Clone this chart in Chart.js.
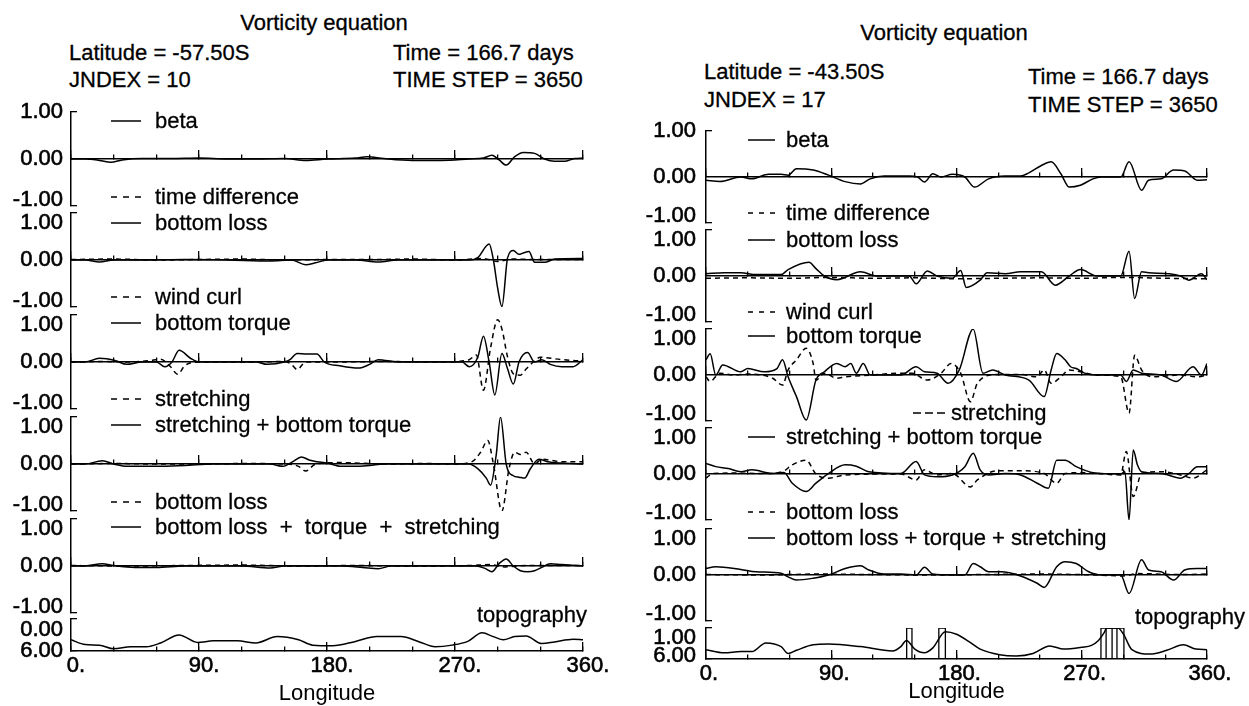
<!DOCTYPE html>
<html><head><meta charset="utf-8">
<script src="https://cdn.jsdelivr.net/npm/chart.js@4.4.1/dist/chart.umd.min.js"></script>
<style>
html,body{margin:0;padding:0;background:#fff;}
#page{position:relative;width:1249px;height:706px;overflow:hidden;background:#fff;font-family:"Liberation Sans",Arial,Helvetica,sans-serif;color:#000;}
#page canvas{position:absolute;}
.t{position:absolute;font-size:22px;line-height:22px;white-space:pre;transform:translateY(-50%);z-index:2;-webkit-text-stroke:0.3px #000;}
.c{transform:translate(-50%,-50%);}
.r{transform:translate(-100%,-50%);}
.ls{position:absolute;z-index:2;overflow:visible;}
</style></head>
<body><div id="page">
<!-- left header -->
<div class="t c" style="left:324px;top:23px">Vorticity equation</div>
<div class="t" style="left:69px;top:53px">Latitude = -57.50S</div>
<div class="t" style="left:69px;top:80px">JNDEX = 10</div>
<div class="t" style="left:393px;top:53px">Time = 166.7 days</div>
<div class="t" style="left:393px;top:80px">TIME STEP = 3650</div>
<!-- right header -->
<div class="t c" style="left:944px;top:33px">Vorticity equation</div>
<div class="t" style="left:704px;top:72px">Latitude = -43.50S</div>
<div class="t" style="left:704px;top:100px">JNDEX = 17</div>
<div class="t" style="left:1028px;top:77px">Time = 166.7 days</div>
<div class="t" style="left:1028px;top:105px">TIME STEP = 3650</div>
<!-- left legends -->
<svg class="ls" style="left:111px;top:120px" width="30" height="2"><line x1="0" y1="1" x2="30" y2="1" stroke="#000" stroke-width="1.5"/></svg>
<div class="t" style="left:155px;top:121px">beta</div>
<svg class="ls" style="left:111px;top:196px" width="30" height="2"><line x1="0" y1="1" x2="30" y2="1" stroke="#000" stroke-width="1.5" stroke-dasharray="6 6"/></svg>
<div class="t" style="left:155px;top:197px">time difference</div>
<svg class="ls" style="left:111px;top:222px" width="30" height="2"><line x1="0" y1="1" x2="30" y2="1" stroke="#000" stroke-width="1.5"/></svg>
<div class="t" style="left:155px;top:223px">bottom loss</div>
<svg class="ls" style="left:111px;top:296px" width="30" height="2"><line x1="0" y1="1" x2="30" y2="1" stroke="#000" stroke-width="1.5" stroke-dasharray="6 6"/></svg>
<div class="t" style="left:155px;top:297px">wind curl</div>
<svg class="ls" style="left:111px;top:322px" width="30" height="2"><line x1="0" y1="1" x2="30" y2="1" stroke="#000" stroke-width="1.5"/></svg>
<div class="t" style="left:155px;top:323px">bottom torque</div>
<svg class="ls" style="left:111px;top:398px" width="30" height="2"><line x1="0" y1="1" x2="30" y2="1" stroke="#000" stroke-width="1.5" stroke-dasharray="6 6"/></svg>
<div class="t" style="left:155px;top:399px">stretching</div>
<svg class="ls" style="left:111px;top:424px" width="30" height="2"><line x1="0" y1="1" x2="30" y2="1" stroke="#000" stroke-width="1.5"/></svg>
<div class="t" style="left:155px;top:425px">stretching + bottom torque</div>
<svg class="ls" style="left:111px;top:501px" width="30" height="2"><line x1="0" y1="1" x2="30" y2="1" stroke="#000" stroke-width="1.5" stroke-dasharray="6 6"/></svg>
<div class="t" style="left:155px;top:502px">bottom loss</div>
<svg class="ls" style="left:111px;top:526px" width="30" height="2"><line x1="0" y1="1" x2="30" y2="1" stroke="#000" stroke-width="1.5"/></svg>
<div class="t" style="left:155px;top:527px">bottom loss  +  torque  +  stretching</div>
<div class="t r" style="left:587px;top:615px">topography</div>
<!-- right legends -->
<svg class="ls" style="left:748px;top:139px" width="27" height="2"><line x1="0" y1="1" x2="27" y2="1" stroke="#000" stroke-width="1.5"/></svg>
<div class="t" style="left:786px;top:140px">beta</div>
<svg class="ls" style="left:748px;top:212px" width="27" height="2"><line x1="0" y1="1" x2="27" y2="1" stroke="#000" stroke-width="1.5" stroke-dasharray="5 6"/></svg>
<div class="t" style="left:786px;top:213px">time difference</div>
<svg class="ls" style="left:748px;top:239px" width="27" height="2"><line x1="0" y1="1" x2="27" y2="1" stroke="#000" stroke-width="1.5"/></svg>
<div class="t" style="left:786px;top:240px">bottom loss</div>
<svg class="ls" style="left:748px;top:311px" width="27" height="2"><line x1="0" y1="1" x2="27" y2="1" stroke="#000" stroke-width="1.5" stroke-dasharray="5 6"/></svg>
<div class="t" style="left:786px;top:312px">wind curl</div>
<svg class="ls" style="left:748px;top:335px" width="27" height="2"><line x1="0" y1="1" x2="27" y2="1" stroke="#000" stroke-width="1.5"/></svg>
<div class="t" style="left:786px;top:336px">bottom torque</div>
<svg class="ls" style="left:913px;top:412px" width="32" height="2"><line x1="0" y1="1" x2="32" y2="1" stroke="#000" stroke-width="1.5" stroke-dasharray="8 4"/></svg>
<div class="t" style="left:951px;top:413px">stretching</div>
<svg class="ls" style="left:748px;top:436px" width="27" height="2"><line x1="0" y1="1" x2="27" y2="1" stroke="#000" stroke-width="1.5"/></svg>
<div class="t" style="left:786px;top:437px">stretching + bottom torque</div>
<svg class="ls" style="left:748px;top:511px" width="27" height="2"><line x1="0" y1="1" x2="27" y2="1" stroke="#000" stroke-width="1.5" stroke-dasharray="5 6"/></svg>
<div class="t" style="left:786px;top:512px">bottom loss</div>
<svg class="ls" style="left:748px;top:537px" width="27" height="2"><line x1="0" y1="1" x2="27" y2="1" stroke="#000" stroke-width="1.5"/></svg>
<div class="t" style="left:786px;top:538px">bottom loss + torque + stretching</div>
<div class="t r" style="left:1245px;top:617px">topography</div>
</div>
<script>
// ---------------- DATA ----------------
const xTickStepMinor = 30;
const xTickStepMajor = 90;
const vortTicks = [-1, 0, 1];
const topoTicksLeft = [0, 6];
const topoTicksRight = [1, 6];

// Left panel: Latitude -57.50S
const L_beta_lon = [0,10,20,28,36,50,70,90,110,130,150,165,180,200,208,220,240,260,280,290,296,301,306,312,318,326,333,340,347,354,360];
const L_beta     = [0,0,-0.03,-0.07,-0.02,0.01,0.01,0.02,0,0,0.01,-0.03,0,0.02,0.05,0.01,-0.03,-0.03,0,0.02,0.08,-0.02,-0.13,0.05,0.14,0.12,0,-0.05,-0.05,0.01,0.02];
const L_tdiff_lon = [0,30,60,90,120,150,180,210,240,270,290,300,310,330,360];
const L_tdiff     = [0.01,0.02,0,0.01,0.02,0,0.01,0.01,0.02,0,0.03,-0.03,0.02,0.01,0.01];
const L_bloss_lon = [0,10,20,30,50,80,110,140,155,165,172,180,200,216,230,260,280,286,294,297,300,303,307,311,315,318,322,326,333,340,360];
const L_bloss     = [0,0,-0.04,0,0,0.01,0,-0.02,0,-0.1,-0.06,0,0,-0.04,0,0,0,0.05,0.34,0,-0.6,-0.99,0.05,0.2,0.12,0.15,0.18,-0.05,-0.05,0.02,0.03];
const L_wind_lon = [0,20,40,55,63,70,75,80,90,120,150,155,159,165,180,220,260,280,285,290,295,300,303,307,311,316,320,325,330,345,360];
const L_wind     = [0,0.01,0,0.03,0.06,-0.1,-0.26,-0.08,0,0,0.01,-0.05,-0.16,0,0,0.01,0,0.05,0.15,-0.6,0.3,0.9,0.7,0.1,-0.25,-0.28,-0.15,0,0.1,0.05,0.02];
const L_torque_lon = [0,10,20,25,32,39,50,60,66,71,76,84,90,110,130,138,150,154,159,166,173,178,189,202,210,216,230,260,275,280,286,290,294,298,303,307,311,315,321,326,331,337,345,353,360];
const L_torque     = [0,0,0.08,0.07,0.02,-0.05,0,0,-0.1,0,0.25,0.08,0,0,0,-0.05,0,0.05,0.18,0.17,0.17,0,-0.08,-0.13,-0.05,0.05,0,0,0,-0.1,0.1,0.55,0,-0.7,0.18,-0.15,-0.47,0,0.2,0,0.05,-0.05,-0.1,-0.1,0.05];
const L_stretch_lon = [0,30,60,90,120,150,160,165,172,190,220,250,270,282,288,293,297,303,308,312,316,320,326,331,345,360];
const L_stretch     = [0,0.01,0,0,0.01,0,-0.05,-0.15,0,0.03,0,0.01,0,0.05,0.25,0.5,0,-1.0,-0.1,0.25,0.2,0.25,0,0.1,0.05,0.05];
const L_sbt_lon = [0,10,22,30,40,60,80,100,120,140,149,156,162,168,173,180,190,200,210,220,240,260,280,286,292,295,299,302,306,311,315,319,323,329,335,345,360];
const L_sbt     = [0,0,0.07,0,-0.05,-0.05,-0.03,0,0,0,-0.05,0.05,0.15,0.08,0.05,0.02,-0.05,-0.05,-0.03,0,0,0,0,-0.1,-0.3,-0.45,0.2,1.0,0,-0.25,-0.28,-0.3,-0.1,0.1,0.05,0.02,0];
const L_bloss2_lon = [0,40,80,120,160,200,240,280,295,305,320,360];
const L_bloss2     = [0.01,0,0.01,0.02,0,0.01,0,0.01,0.03,-0.02,0.01,0.01];
const L_sum_lon = [0,10,22,30,45,60,80,100,120,140,150,170,190,205,216,225,250,270,285,291,296,301,306,311,316,321,326,331,337,345,360];
const L_sum     = [0,0,0.05,0.01,-0.03,-0.03,0,0,0,-0.04,0,0,0,-0.03,-0.06,0,0,0,0,-0.05,-0.12,0.05,0.15,0,-0.1,-0.12,-0.1,-0.03,0.05,0.03,0];
const L_topo_lon = [0,10,20,30,42,53,63,76,89,100,117,130,145,160,170,184,200,215,232,245,256,268,279,289,297,304,312,320,331,340,353,360];
const L_topo     = [3.9,4.8,4.9,5.6,5.2,5.2,4.5,3.0,4.4,4.1,4.1,4.5,3.3,3.9,4.9,5.0,4.2,3.3,3.3,4.3,5.2,4.9,4.2,2.6,3.3,3.9,3.3,3.2,4.6,4.3,3.8,3.9];

// Right panel: Latitude -43.50S
const R_beta_lon = [0,10,25,33,45,54,59,65,77,88,100,111,118,128,146,152,157,163,169,177,186,193,203,215,226,232,241,248,255,261,269,278,284,298,304,313,318,327,336,344,353,360];
const R_beta     = [-0.07,-0.1,0,-0.04,0.06,0.06,0.04,0.18,0.15,0.04,-0.1,-0.15,-0.04,0.02,0.02,0,-0.11,0.07,0,0.06,0,-0.22,-0.04,0.02,0.02,0.09,0.25,0.33,0.07,-0.22,-0.18,-0.04,0,0,0.33,-0.29,-0.07,-0.04,0.15,0.13,-0.07,-0.06];
const R_tdiff_lon = [0,30,60,90,120,150,180,210,240,270,300,330,360];
const R_tdiff     = [-0.05,-0.04,-0.05,-0.03,-0.05,-0.04,-0.06,-0.05,-0.04,-0.05,-0.03,-0.05,-0.06];
const R_bloss_lon = [0,13,25,36,54,59,74,79,85,94,111,123,140,146,151,159,166,177,183,187,197,202,215,226,241,251,261,269,281,298,304,308,313,318,333,341,347,356,360];
const R_bloss     = [0.05,0.07,0.07,0.03,0.03,0.14,0.3,0.16,0,-0.08,0.09,0,0,0,-0.17,0.11,0,-0.05,0.12,-0.25,-0.09,0.07,0.05,0.09,0.09,-0.2,0,0.14,0,0,0.54,-0.49,0.09,0.07,0.05,0,-0.09,0.05,-0.08];
const R_wind_lon = [0,3,10,20,30,40,48,55,59,65,72,77,79,85,94,100,120,140,148,159,169,176,183,190,195,209,226,238,243,248,255,261,269,280,298,304,308,313,321,341,353,360];
const R_wind     = [-0.04,-0.14,0.04,0,0.02,0,-0.07,-0.22,0.11,0.33,0.58,0.25,-0.11,0.04,-0.07,-0.04,0,0.04,0.04,-0.11,0.04,0.25,0.04,-0.58,-0.18,0.01,0.01,-0.04,0.11,-0.18,-0.04,0.11,0.07,0,-0.04,-0.83,0.43,0.11,-0.04,0,-0.04,0];
const R_torque_lon = [0,3,7,12,25,30,42,51,55,59,65,72,79,85,94,100,104,108,113,118,140,151,157,166,174,182,192,199,206,215,232,243,248,252,258,262,266,272,280,298,302,307,313,327,338,350,356,360];
const R_torque     = [0.33,0.46,0,0.22,0.07,0.14,0.07,0.14,0.33,-0.04,-0.47,-0.98,-0.11,0.07,0.25,0.18,0.25,0.04,0.25,0,0,0.18,0.07,0.04,-0.18,0.11,1.0,0.04,0.11,0,-0.11,-0.47,0.11,0.47,0.33,0.18,0.14,0.04,0,0,-0.14,0.11,0.04,0,-0.14,0.18,0,0.25];
const R_stretch_lon = [0,5,20,40,55,62,72,79,88,100,140,151,157,166,177,190,195,209,226,243,252,258,269,298,302,307,313,327,341,350,360];
const R_stretch     = [-0.09,0.01,0.02,0.01,0.05,0.2,0.3,0,-0.09,-0.02,0,-0.13,0.09,-0.02,0.01,-0.28,-0.13,0.07,0.07,0.01,-0.2,0.01,0.03,-0.02,0.49,-0.49,0.01,0.05,-0.02,-0.09,0.09];
const R_sbt_lon = [0,7,16,25,33,48,56,62,72,79,88,100,108,117,140,151,157,166,177,186,192,197,203,215,226,238,246,252,258,266,278,298,301,304,307,310,313,327,341,347,353,360];
const R_sbt     = [0.23,0.16,0.12,0.05,0.09,0.01,0.03,-0.2,-0.38,-0.2,0.01,0.2,0.17,0.05,0.01,0.27,-0.02,-0.06,-0.02,0.16,0.45,0.09,-0.02,0.01,-0.02,-0.2,-0.31,0.3,0.3,0.16,0.03,0,0.05,-1.0,0.52,0.2,0.05,0.01,-0.09,0.01,0.16,0.16];
const R_bloss2_lon = [0,40,80,120,160,200,240,280,300,310,340,360];
const R_bloss2     = [0.01,0,0.02,0.01,0,0.01,0.02,0,-0.02,0.03,0.01,0.02];
const R_sum_lon = [0,7,25,36,54,59,65,77,88,100,111,117,128,140,151,157,163,177,186,192,197,203,212,226,238,243,252,258,266,275,284,298,304,313,318,327,336,344,353,360];
const R_sum     = [0.14,0.18,0.12,0.07,0.04,-0.04,-0.11,-0.07,0,0.14,0.2,0.11,0.02,0.02,0,0.17,0.02,0,0,0.25,0.18,0.07,0.07,-0.02,-0.18,-0.27,0.18,0.29,0.25,0.07,0,0,-0.4,0.33,0.11,0.07,-0.11,0.11,0.14,0.14];
const R_topo_lon = [0,13,25,33,43,54,59,65,77,88,111,134,140,144,150,157,163,172,180,189,197,211,223,235,247,257,270,277,282,286,288,296,300,306,319,331,343,352,360];
const R_topo     = [4.5,5.0,4.8,4.8,3.4,4.0,5.1,4.6,3.7,3.6,4.0,4.7,4.0,3.0,4.4,5.0,4.2,1.6,2.0,3.2,4.4,5.3,5.5,5.1,3.9,4.4,4.1,3.8,3.0,1.8,1.0,1.0,2.0,4.5,5.2,4.6,3.7,4.4,4.5];
// land cells (longitude edges) shown as outlined boxes over the topography
const R_land_start = [144.2,167.3,283.8,287.5,291.8,295.3];
const R_land_end   = [148.0,172.0,287.5,291.8,295.3,300.3];

// ---------------- RENDERING ----------------
const FONT = '"Liberation Sans", Arial, Helvetica, sans-serif';
Chart.defaults.font.family = FONT;
Chart.defaults.color = '#000';
const page = document.getElementById('page');
const LINE_W = 1.5;

function series(lon, val, dashed) {
  return {
    data: lon.map((x, i) => ({x: x, y: val[i]})),
    borderColor: '#000', borderWidth: LINE_W, borderDash: dashed ? [5, 4] : [],
    pointRadius: 0, pointHoverRadius: 0, cubicInterpolationMode: 'monotone', fill: false,
    xAxisID: 'x', yAxisID: 'y'
  };
}
function landSeries(starts, ends, top, bottom) {
  const d = [];
  starts.forEach((a, i) => {
    const b = ends[i];
    d.push({x: a, y: bottom}, {x: a, y: top}, {x: b, y: top}, {x: b, y: bottom}, {x: b, y: null});
  });
  return {data: d, borderColor: '#000', borderWidth: 1.3, pointRadius: 0, tension: 0, fill: false, spanGaps: false, xAxisID: 'x', yAxisID: 'y'};
}

function makePlot(c) {
  const LW = c.axisX - c.canvasLeft;
  const P = 14;
  const canvasTop = c.top - P;
  const bottomExtra = c.bottomAxis ? (706 - c.bottom) : P;
  const H = (c.bottom - canvasTop) + bottomExtra;
  const W = LW + c.plotW + c.rightPad;
  const cv = document.createElement('canvas');
  cv.width = W; cv.height = H;
  cv.style.left = c.canvasLeft + 'px'; cv.style.top = canvasTop + 'px';
  cv.style.width = W + 'px'; cv.style.height = H + 'px';
  page.appendChild(cv);

  const fmt = (v) => Number(v).toFixed(2);
  const labelOf = (v) => {
    const s = fmt(v);
    if (v === c.topVal && c.topLH) return ['', s];
    if (v === c.botVal && c.botLH) return [s, ''];
    return s;
  };
  const lhOf = (v) => {
    if (v === c.topVal && c.topLH) return c.topLH + 'px';
    if (v === c.botVal && c.botLH) return c.botLH + 'px';
    return '22px';
  };
  const lineAxis = (step, len, border) => ({
    type: 'linear', min: 0, max: 360, position: {y: c.baseVal},
    ticks: {display: false, stepSize: step},
    grid: {display: true, drawOnChartArea: false, drawTicks: true, tickLength: -len, color: '#000', lineWidth: 1.3},
    border: {display: border, color: '#000', width: 1.5}
  });
  const yMin = Math.min(c.topVal, c.botVal), yMax = Math.max(c.topVal, c.botVal);
  const scales = {
    x: lineAxis(xTickStepMinor, 5, true),
    x90: lineAxis(xTickStepMajor, 9, false),
    y: {
      type: 'linear', min: yMin, max: yMax, reverse: !!c.reverse, position: 'left',
      afterBuildTicks: (s) => { s.ticks = c.yTicks.map(v => ({value: v})); },
      ticks: {
        padding: c.labelPad, color: '#000', autoSkip: false,
        textStrokeColor: '#000', textStrokeWidth: 0.6,
        callback: (v) => labelOf(v),
        font: (ctx) => ({family: FONT, size: 22, lineHeight: lhOf(ctx.tick ? ctx.tick.value : null)})
      },
      grid: {display: false, drawTicks: false},
      border: {display: false},
      afterFit: (s) => { s.width = LW; s.paddingTop = 0; s.paddingBottom = 0; }
    },
    yb: {
      type: 'linear', min: yMin, max: yMax, reverse: !!c.reverse, position: {x: 0},
      afterBuildTicks: (s) => { s.ticks = [{value: yMin}, {value: yMax}]; },
      ticks: {display: false},
      grid: {display: true, drawOnChartArea: false, drawTicks: true, tickLength: -7, color: '#000', lineWidth: 1.3},
      border: {display: true, color: '#000', width: 1.5}
    }
  };
  if (c.bottomAxis) {
    scales.xl = {
      type: 'linear', min: 0, max: 360, position: 'bottom',
      ticks: {stepSize: xTickStepMajor, autoSkip: false, maxRotation: 0, minRotation: 0, padding: c.xlPad,
        labelOffset: c.xlOffset, color: '#000', font: {family: FONT, size: 22},
        textStrokeColor: '#000', textStrokeWidth: 0.6,
        callback: (v) => v + '.'},
      grid: {display: false, drawTicks: false},
      border: {display: false},
      title: {display: true, text: 'Longitude', color: '#000', font: {family: FONT, size: 22, lineHeight: 1}, padding: {top: 0, bottom: c.titlePad}},
      afterFit: (s) => { s.height = bottomExtra; s.paddingLeft = 0; s.paddingRight = 0; }
    };
  }
  new Chart(cv, {
    type: 'line',
    data: {datasets: c.datasets},
    options: {
      responsive: false, animation: false, devicePixelRatio: 1, events: [],
      layout: {autoPadding: false, padding: {left: 0, right: c.rightPad, top: P, bottom: c.bottomAxis ? 0 : P}},
      plugins: {legend: {display: false}, tooltip: {enabled: false}, title: {display: false}},
      scales: scales
    }
  });
}

const panels = [
  {
    canvasLeft: 0, axisX: 71, plotW: 512, labelPad: 8, xlPad: 2, xlOffset: 5, titlePad: 1, topLH: 20, botLH: 12,
    plots: [
      {top: 112, bottom: 206, first: true, sets: [series(L_beta_lon, L_beta, false)]},
      {top: 213, bottom: 307, sets: [series(L_tdiff_lon, L_tdiff, true), series(L_bloss_lon, L_bloss, false)]},
      {top: 315, bottom: 409, sets: [series(L_wind_lon, L_wind, true), series(L_torque_lon, L_torque, false)]},
      {top: 417, bottom: 511, sets: [series(L_stretch_lon, L_stretch, true), series(L_sbt_lon, L_sbt, false)]},
      {top: 519, bottom: 613, sets: [series(L_bloss2_lon, L_bloss2, true), series(L_sum_lon, L_sum, false)]}
    ],
    topo: {top: 619, bottom: 651, ticks: topoTicksLeft, topLH: 22, botLH: 0,
      sets: [series(L_topo_lon, L_topo, false)]}
  },
  {
    canvasLeft: 630, axisX: 706, plotW: 501, labelPad: 10, xlPad: 2, xlOffset: 3, titlePad: 3, topLH: 20, botLH: 14,
    plots: [
      {top: 131, bottom: 223, first: true, sets: [series(R_beta_lon, R_beta, false)]},
      {top: 230, bottom: 322, sets: [series(R_tdiff_lon, R_tdiff, true), series(R_bloss_lon, R_bloss, false)]},
      {top: 329, bottom: 421, sets: [series(R_wind_lon, R_wind, true), series(R_torque_lon, R_torque, false)]},
      {top: 428, bottom: 520, sets: [series(R_stretch_lon, R_stretch, true), series(R_sbt_lon, R_sbt, false)]},
      {top: 529, bottom: 621, sets: [series(R_bloss2_lon, R_bloss2, true), series(R_sum_lon, R_sum, false)]}
    ],
    topo: {top: 628, bottom: 659, ticks: topoTicksRight, topLH: 20, botLH: 6,
      sets: [series(R_topo_lon, R_topo, false), landSeries(R_land_start, R_land_end, 1, 6)]}
  }
];

panels.forEach((p) => {
  p.plots.forEach((pl) => {
    makePlot({
      canvasLeft: p.canvasLeft, axisX: p.axisX, plotW: p.plotW, rightPad: 10, labelPad: p.labelPad,
      top: pl.top, bottom: pl.bottom, topVal: 1, botVal: -1, baseVal: 0, reverse: false,
      yTicks: vortTicks, topLH: pl.first ? 0 : p.topLH, botLH: p.botLH, datasets: pl.sets, bottomAxis: false
    });
  });
  const t = p.topo;
  makePlot({
    canvasLeft: p.canvasLeft, axisX: p.axisX, plotW: p.plotW, rightPad: 40, labelPad: p.labelPad,
    top: t.top, bottom: t.bottom, topVal: t.ticks[0], botVal: 6, baseVal: 6, reverse: true,
    yTicks: t.ticks, topLH: t.topLH, botLH: t.botLH, datasets: t.sets, bottomAxis: true,
    xlPad: p.xlPad, xlOffset: p.xlOffset, titlePad: p.titlePad
  });
});
</script>
</body></html>
